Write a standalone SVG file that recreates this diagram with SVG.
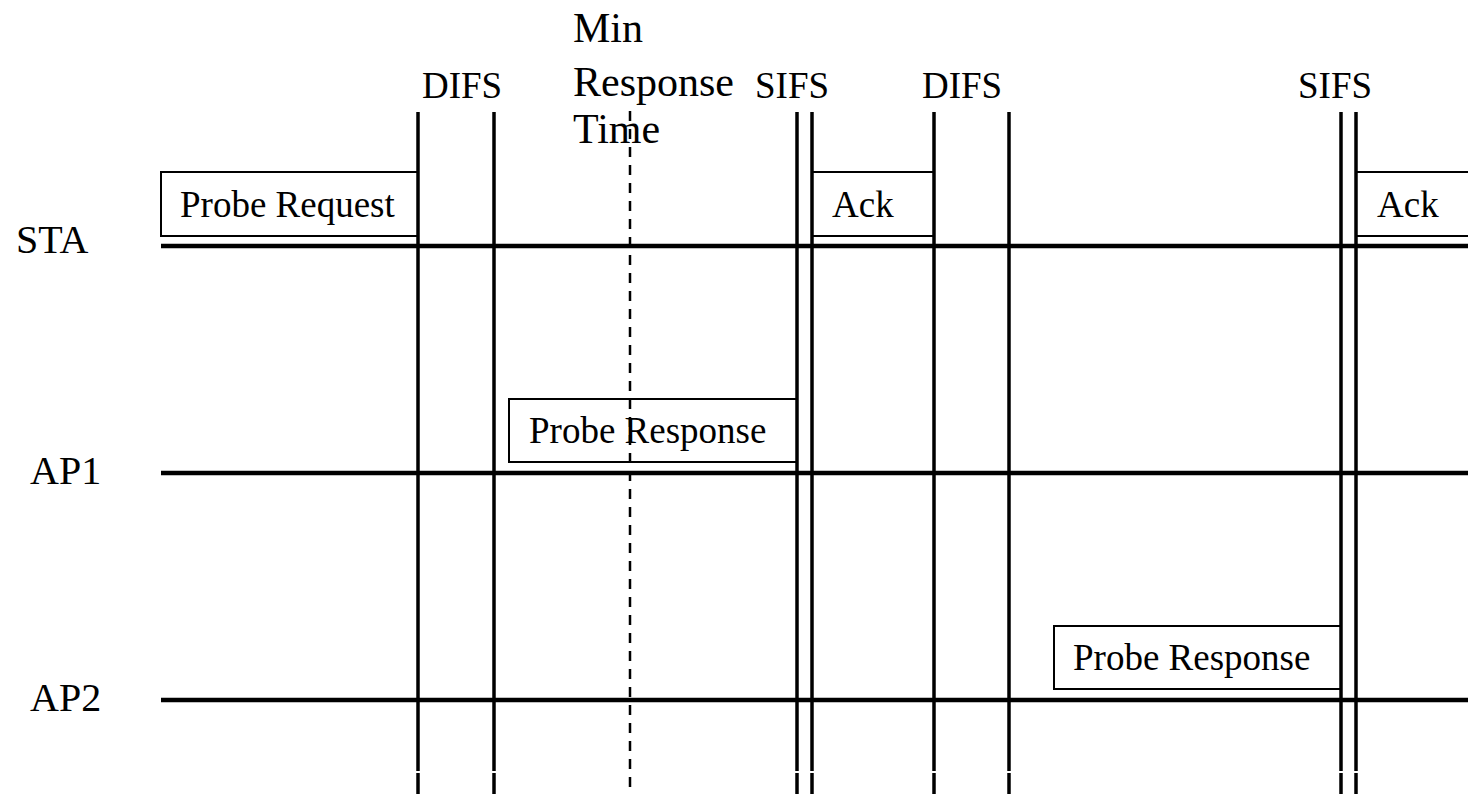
<svg xmlns="http://www.w3.org/2000/svg" width="1468" height="794" viewBox="0 0 1468 794">
  <style>
    text { fill: #000; }
    .lane { font-size: 40px; }
    .frame-label { font-size: 37px; }
    .ifs { font-size: 37px; }
    .note { font-size: 42px; }
    .frame { fill: #fff; stroke: #000; stroke-width: 2; }
    .timeline { stroke: #000; stroke-width: 4.5; fill: none; }
    .mark { stroke: #000; stroke-width: 3.5; fill: none; }
    .dash { stroke: #000; stroke-width: 2.5; stroke-dasharray: 10 8; fill: none; }
  </style>
  <rect width="1468" height="794" fill="#fff"/>

  <g font-family="Liberation Serif, Times New Roman, DejaVu Serif, serif">
    <!-- station labels -->
    <g id="lane-sta"><text class="lane" x="16" y="253">STA</text></g>
    <g id="lane-ap1"><text class="lane" x="30" y="484">AP1</text></g>
    <g id="lane-ap2"><text class="lane" x="30" y="711">AP2</text></g>

    <!-- frames on the medium -->
    <g id="probe-request">
      <rect class="frame" x="161" y="172" width="257" height="64"/>
      <text class="frame-label" x="180" y="217">Probe Request</text>
    </g>
    <g id="ack-1">
      <rect class="frame" x="812" y="172" width="122" height="64"/>
      <text class="frame-label" x="832" y="217">Ack</text>
    </g>
    <g id="ack-2">
      <rect class="frame" x="1356" y="172" width="120" height="64"/>
      <text class="frame-label" x="1377" y="217">Ack</text>
    </g>
    <g id="probe-response-ap1">
      <rect class="frame" x="509" y="399" width="288" height="63"/>
      <text class="frame-label" x="529" y="443">Probe Response</text>
    </g>
    <g id="probe-response-ap2">
      <rect class="frame" x="1054" y="626" width="287" height="63"/>
      <text class="frame-label" x="1073" y="670">Probe Response</text>
    </g>

    <!-- interval labels -->
    <g id="interval-labels">
      <text class="ifs" x="422" y="98">DIFS</text>
      <text class="ifs" x="755" y="98">SIFS</text>
      <text class="ifs" x="922" y="98">DIFS</text>
      <text class="ifs" x="1298" y="98">SIFS</text>
    </g>
    <g id="min-response-time">
      <text class="note" x="573" y="42">Min</text>
      <text class="note" x="573" y="96">Response</text>
      <text class="note" x="573" y="143">Time</text>
    </g>
  </g>

  <!-- timelines and timing markers -->
  <g id="connectors">
    <line class="timeline" x1="161" y1="246" x2="1468" y2="246"/>
    <line class="timeline" x1="161" y1="473" x2="1468" y2="473"/>
    <line class="timeline" x1="161" y1="700" x2="1468" y2="700"/>

    <g class="mark">
      <line x1="418" y1="112" x2="418" y2="771"/><line x1="418" y1="773" x2="418" y2="794"/>
      <line x1="494" y1="112" x2="494" y2="771"/><line x1="494" y1="773" x2="494" y2="794"/>
      <line x1="797" y1="112" x2="797" y2="771"/><line x1="797" y1="773" x2="797" y2="794"/>
      <line x1="812" y1="112" x2="812" y2="771"/><line x1="812" y1="773" x2="812" y2="794"/>
      <line x1="934" y1="112" x2="934" y2="771"/><line x1="934" y1="773" x2="934" y2="794"/>
      <line x1="1009" y1="112" x2="1009" y2="771"/><line x1="1009" y1="773" x2="1009" y2="794"/>
      <line x1="1341" y1="112" x2="1341" y2="771"/><line x1="1341" y1="773" x2="1341" y2="794"/>
      <line x1="1356" y1="112" x2="1356" y2="771"/><line x1="1356" y1="773" x2="1356" y2="794"/>
    </g>
    <line class="dash" x1="630" y1="111" x2="630" y2="794"/>
  </g>
</svg>
